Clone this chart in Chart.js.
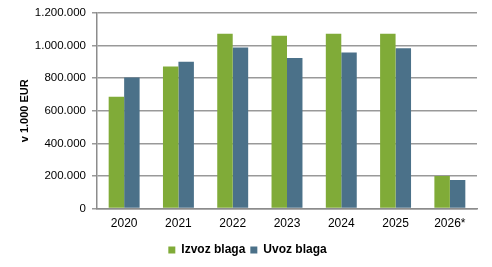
<!DOCTYPE html>
<html>
<head>
<meta charset="utf-8">
<script src="https://cdn.jsdelivr.net/npm/chart.js@4"></script>
<style>
  html, body { margin: 0; padding: 0; background: #ffffff; }
  #wrap { width: 492px; height: 267px; }
</style>
</head>
<body>
<div id="wrap"><canvas id="trade-chart"></canvas></div>
<script>
const years = ['2020', '2021', '2022', '2023', '2024', '2025', '2026*'];
const izvoz = [686000, 872000, 1072000, 1060000, 1072000, 1072000, 200000];
const uvoz = [804000, 901000, 988000, 924000, 957000, 984000, 175000];

function formatDots(v) {
  return String(v).replace(/\B(?=(\d{3})+(?!\d))/g, '.');
}

const ctx = document.getElementById('trade-chart').getContext('2d');

new Chart(ctx, {
  type: 'bar',
  data: {
    labels: years,
    datasets: [
      {
        label: 'Izvoz blaga',
        data: izvoz,
        backgroundColor: '#80ab38',
        barPercentage: 1,
        categoryPercentage: 0.57,
      },
      {
        label: 'Uvoz blaga',
        data: uvoz,
        backgroundColor: '#4b7189',
        barPercentage: 1,
        categoryPercentage: 0.57,
      },
    ],
  },
  options: {
    responsive: true,
    maintainAspectRatio: false,
    animation: false,
    layout: {
      padding: { left: 18, right: 15, top: 12, bottom: 1 },
    },
    plugins: {
      tooltip: { enabled: false },
      legend: {
        position: 'bottom',
        labels: {
          boxWidth: 7,
          boxHeight: 7,
          padding: 5,
          color: '#000000',
          font: { family: 'Liberation Sans', size: 12, weight: 'bold' },
        },
      },
    },
    scales: {
      x: {
        grid: { display: false, drawTicks: false },
        border: { color: '#8c8c8c', width: 1.5 },
        ticks: {
          color: '#000000',
          padding: 8,
          font: { family: 'Liberation Sans', size: 12 },
        },
      },
      y: {
        min: 0,
        max: 1200000,
        afterFit: function (scale) { scale.width = 79; },
        grid: { color: '#999999', lineWidth: 1.5, tickLength: 5 },
        border: { color: '#8c8c8c', width: 1.5 },
        title: {
          display: true,
          text: 'v 1.000 EUR',
          color: '#000000',
          font: { family: 'Liberation Sans', size: 11, weight: 'bold' },
          padding: { top: 0, bottom: 4 },
        },
        ticks: {
          stepSize: 200000,
          color: '#000000',
          padding: 6,
          font: { family: 'Liberation Sans', size: 11.5 },
          callback: function (value) { return formatDots(value); },
        },
      },
    },
  },
});
</script>
</body>
</html>
